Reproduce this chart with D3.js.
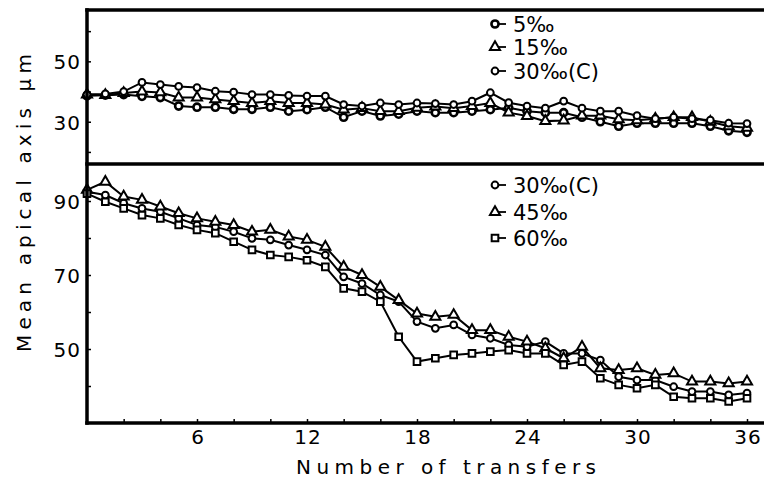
<!DOCTYPE html>
<html>
<head>
<meta charset="utf-8">
<script src="https://cdnjs.cloudflare.com/ajax/libs/d3/7.8.5/d3.min.js"></script>
<style>
  body { margin: 0; background: #fff; }
  svg text { font-family: "DejaVu Sans", sans-serif; fill: #000; }
</style>
</head>
<body>
<svg width="764" height="485"></svg>
<script>
// transfers (x values)
const transfers = [0,1,2,3,4,5,6,7,8,9,10,11,12,13,14,15,16,17,18,19,20,21,22,23,24,25,26,27,28,29,30,31,32,33,34,35,36];

// upper panel: 5, 15, 30 (control) per mille
const upper5  = [38.6,38.8,39,38.4,38,35.2,34.8,34.8,34.1,34.1,34.8,33.5,34,34.8,31.5,33.5,31.9,32.5,33.5,33,33,33.5,34,34.6,33.5,33,33,31.5,30,28.5,29.5,29.5,29.5,29.5,28.5,27,26.5];
const upper15 = [39,38.8,39.5,40,39.7,38,38,37.4,36.8,36.2,36.8,36.2,36.2,35.7,34,34.5,33.5,33.5,34.6,35,34.5,35.2,36.2,33,31.9,30.2,30.4,32,32,30.8,30.5,31,31.5,31.5,30,28.5,28];
const upper30 = [39,39.2,40,43,42.3,41.7,41.3,40.1,39.8,39,39,38.7,38.5,38.5,35.7,35.2,36.2,35.7,36.2,36,35.7,36.8,39.6,36.3,35.2,34.5,36.8,34.5,33.5,33.5,32,31,31.5,31,30.5,29.5,29.4];

// lower panel: 30 (control), 45, 60 per mille
const lower30 = [92.5,91.6,89.4,88,87.1,85.3,83.5,83,81.7,79.9,79.5,78.1,76.8,75.4,69.5,67.7,64.6,62.8,57.4,55.6,56.5,53.8,52.9,51.1,50.6,52,48.8,48.8,47,42.5,41.6,41.6,39.8,38.5,38.5,37.6,38.1];
const lower45 = [93,95.2,91.2,90.3,88.5,86.7,85.3,84.4,83.5,81.7,82.2,80.4,79.5,77.6,72.2,70,66.8,63.2,59.6,58.7,59.2,55.1,55.1,53.3,52,50.2,47.5,50.6,44.8,44.3,44.8,43,43.4,41.2,41.2,40.7,41.2];
const lower60 = [92,89.8,88,86.2,85.3,83.5,82.2,81.3,79,76.8,75.4,74.9,74,72.2,66.4,65.5,62.8,53.3,46.6,47.5,48.4,48.8,49.3,49.7,48.8,48.8,45.7,46.6,42.1,40.3,39.4,40.3,37.1,36.7,36.7,35.8,36.7];

// tick labels
const xTickLabels = [6, 12, 18, 24, 30, 36];
const xMinorTicks = [2,4,6,8,10,12,14,16,18,20,22,24,26,28,30,32,34,36];
const upperTickLabels = [30, 50];
const upperMinorTicks = [20, 30, 40, 50, 60];
const lowerTickLabels = [50, 70, 90];
const lowerMinorTicks = [40, 50, 60, 70, 80, 90];

const upperLegend = ["5‰", "15‰", "30‰(C)"];
const lowerLegend = ["30‰(C)", "45‰", "60‰"];

var svg = d3.select("svg");

const plotLeft = 87, plotRight = 770, plotTop = 10, plotMid = 164, plotBottom = 423;

var x = d3.scaleLinear().domain([0, 36]).range([plotLeft, 747]);
var yUp = d3.scaleLinear().domain([16, 67]).range([plotMid, plotTop]);
var yLow = d3.scaleLinear().domain([30, 100]).range([plotBottom, plotMid]);

// marker shapes
const circle = d3.symbol().type(d3.symbolCircle).size(36);
const bigCircle = d3.symbol().type(d3.symbolCircle).size(40);
const triangle = d3.symbol().type(d3.symbolTriangle).size(44);
const square = d3.symbol().type(d3.symbolSquare).size(44);

function drawSeries(values, yScale, shape, sw) {
    var g = svg.append("g");
    var line = d3.line()
        .x((d, i) => x(transfers[i]))
        .y(d => yScale(d));
    g.append("path")
        .datum(values)
        .attr("fill", "none")
        .attr("stroke", "#000")
        .attr("stroke-width", 2)
        .attr("d", line);
    g.selectAll("path.m")
        .data(values)
        .enter().append("path")
        .attr("class", "m")
        .attr("d", shape)
        .attr("transform", (d, i) => "translate(" + x(transfers[i]) + "," + yScale(d) + ")")
        .attr("fill", "#fff")
        .attr("stroke", "#000")
        .attr("stroke-width", sw);
}

drawSeries(upper5, yUp, bigCircle, 2.6);
drawSeries(upper15, yUp, triangle, 2);
drawSeries(upper30, yUp, circle, 2);

drawSeries(lower30, yLow, circle, 2);
drawSeries(lower45, yLow, triangle, 2);
drawSeries(lower60, yLow, square, 2);

// frame lines
const frame = [[plotLeft, plotTop, plotRight, plotTop], [plotLeft, plotMid, plotRight, plotMid],
               [plotLeft, plotBottom, plotRight, plotBottom], [plotLeft, plotTop, plotLeft, plotBottom]];
svg.selectAll("line.frame")
    .data(frame)
    .enter().append("line")
    .attr("class", "frame")
    .attr("x1", d => d[0]).attr("y1", d => d[1])
    .attr("x2", d => d[2]).attr("y2", d => d[3])
    .attr("stroke", "#000")
    .attr("stroke-width", 3.5)
    .attr("stroke-linecap", "square");

// small inward ticks
svg.append("g")
    .attr("transform", "translate(0," + plotBottom + ")")
    .call(d3.axisBottom(x).tickValues(xMinorTicks).tickSize(-4).tickFormat(""))
    .call(g => g.select(".domain").remove())
    .selectAll("line").attr("stroke-width", 1.5);

svg.append("g")
    .attr("transform", "translate(" + plotLeft + ",0)")
    .call(d3.axisLeft(yUp).tickValues(upperMinorTicks).tickSize(-4).tickFormat(""))
    .call(g => g.select(".domain").remove())
    .selectAll("line").attr("stroke-width", 1.5);

svg.append("g")
    .attr("transform", "translate(" + plotLeft + ",0)")
    .call(d3.axisLeft(yLow).tickValues(lowerMinorTicks).tickSize(-4).tickFormat(""))
    .call(g => g.select(".domain").remove())
    .selectAll("line").attr("stroke-width", 1.5);

// tick labels
svg.selectAll("text.xt")
    .data(xTickLabels)
    .enter().append("text")
    .attr("class", "xt")
    .attr("x", d => x(d) + 1)
    .attr("y", 444)
    .attr("text-anchor", "middle")
    .style("font-size", "20px")
    .style("letter-spacing", "1px")
    .text(d => d);

svg.selectAll("text.yu")
    .data(upperTickLabels)
    .enter().append("text")
    .attr("class", "yu")
    .attr("x", 81)
    .attr("y", d => yUp(d) + 8)
    .attr("text-anchor", "end")
    .style("font-size", "20px")
    .style("letter-spacing", "1px")
    .text(d => d);

svg.selectAll("text.yl")
    .data(lowerTickLabels)
    .enter().append("text")
    .attr("class", "yl")
    .attr("x", 81)
    .attr("y", d => yLow(d) + 8)
    .attr("text-anchor", "end")
    .style("font-size", "20px")
    .style("letter-spacing", "1px")
    .text(d => d);

// axis titles
svg.append("text")
    .attr("x", 296)
    .attr("y", 474)
    .attr("textLength", 300)
    .attr("lengthAdjust", "spacing")
    .style("font-size", "20px")
    .text("Number of transfers");

svg.append("text")
    .attr("transform", "translate(31,352) rotate(-90)")
    .attr("textLength", 298)
    .attr("lengthAdjust", "spacing")
    .style("font-size", "20px")
    .text("Mean apical axis µm");

// legends
function legend(labels, shapes, sws, ys) {
    var g = svg.append("g");
    labels.forEach(function (lab, i) {
        g.append("line")
            .attr("x1", 495).attr("x2", 506)
            .attr("y1", ys[i]).attr("y2", ys[i])
            .attr("stroke", "#000").attr("stroke-width", 1.8);
        g.append("path")
            .attr("d", shapes[i])
            .attr("transform", "translate(495," + ys[i] + ")")
            .attr("fill", "#fff")
            .attr("stroke", "#000")
            .attr("stroke-width", sws[i]);
        g.append("text")
            .attr("x", 513)
            .attr("y", ys[i] + 8)
            .style("font-size", "21px")
            .text(lab);
    });
}
legend(upperLegend, [bigCircle, triangle, circle], [2.6, 2, 2], [24, 47, 71]);
legend(lowerLegend, [circle, triangle, square], [2, 2, 2], [185, 212, 238]);
</script>
</body>
</html>
